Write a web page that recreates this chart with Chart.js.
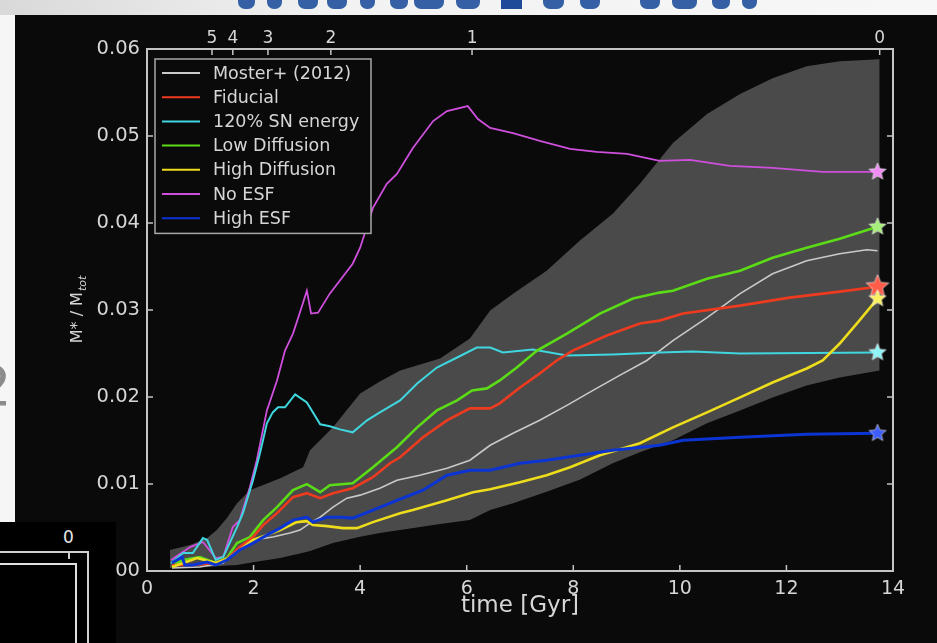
<!DOCTYPE html>
<html>
<head>
<meta charset="utf-8">
<script src="https://cdn.jsdelivr.net/npm/chart.js@4.4.1/dist/chart.umd.min.js"></script>
<style>
    html, body { margin: 0; padding: 0; background: #0a0a0a; overflow: hidden; }
    #wrap { position: relative; width: 937px; height: 643px; background: #0a0a0a; }
    #chart { position: absolute; left: 0; top: 0; }
    /* bits of the slide around the figure */
    .slide-top { position: absolute; left: 0; top: 0; width: 937px; height: 15px; overflow: hidden;
        background: linear-gradient(90deg, #d9d9d9 0%, #f2f2f2 35%, #f7f7f7 100%); }
    .slide-top span { position: absolute; top: -10px; height: 19px; background: #3560a6; border-radius: 0 0 7px 7px; }
    .slide-left { position: absolute; left: 0; top: 15px; width: 15px; height: 507px; overflow: hidden; background: #f6f6f6; }
    .slide-left div { position: absolute; left: -24px; top: 338px; font: 56px 'DejaVu Sans', sans-serif; color: #8c8c8c; }
    .slide-box { position: absolute; left: 0; top: 522px; width: 116px; height: 121px; background: #000; overflow: hidden; }
    .slide-box .lbl { position: absolute; left: 63px; top: 5px; font: 17px 'DejaVu Sans', sans-serif; color: #e6e6e6; }
    .slide-box .h1 { position: absolute; left: 0; top: 29px; width: 88px; height: 2px; background: #d0d0d0; }
    .slide-box .v1 { position: absolute; left: 87px; top: 29px; width: 2px; height: 100px; background: #d0d0d0; }
    .slide-box .t1 { position: absolute; left: 68px; top: 31px; width: 2px; height: 6px; background: #d0d0d0; }
    .slide-box .h2 { position: absolute; left: 0; top: 41px; width: 77px; height: 2px; background: #e0e0e0; }
    .slide-box .v2 { position: absolute; left: 75px; top: 41px; width: 2px; height: 90px; background: #e0e0e0; }
</style>
</head>
<body>
<div id="wrap">
    <canvas id="chart" width="937" height="643"></canvas>
    <div class="slide-top">
        <span style="left:238px;width:17px"></span><span style="left:267px;width:15px"></span>
        <span style="left:298px;width:20px"></span><span style="left:327px;width:20px"></span>
        <span style="left:360px;width:15px"></span><span style="left:390px;width:18px"></span>
        <span style="left:414px;width:30px"></span><span style="left:456px;width:24px"></span>
        <span style="left:501px;width:21px;border-radius:0;background:#1f4a9a"></span>
        <span style="left:543px;width:21px"></span><span style="left:580px;width:20px"></span>
        <span style="left:640px;width:20px"></span><span style="left:672px;width:25px"></span>
        <span style="left:712px;width:18px"></span><span style="left:742px;width:15px"></span>
    </div>
    <div class="slide-left"><div>2</div></div>
    <div class="slide-box">
        <div class="lbl">0</div>
        <div class="h1"></div><div class="v1"></div><div class="t1"></div>
        <div class="h2"></div><div class="v2"></div>
    </div>
</div>
<script>
// Redshift labels on the top axis and the cosmic time (Gyr) where they sit
const zLabels = ['5', '4', '3', '2', '1', '0'];
const zTimes = [1.22, 1.61, 2.27, 3.45, 6.1, 13.75];

// Moster+ (2012) range (grey band)
const bandT = [0.43, 0.81, 1.13, 1.31, 1.5, 1.69, 1.93, 2.5, 2.93, 3.06, 3.49, 4.0, 4.37, 4.75, 5.5, 6.06, 6.44, 6.87, 7.5, 8.12, 8.74, 9.25, 9.87, 10.51, 11.13, 11.74, 12.38, 13.0, 13.75];
const bandLow = [0.00034, 0.0004, 0.00046, 0.00055, 0.00063, 0.0007, 0.00095, 0.00149, 0.0021, 0.0023, 0.00321, 0.00395, 0.00436, 0.0047, 0.0054, 0.00585, 0.007, 0.0078, 0.0091, 0.0105, 0.01239, 0.01365, 0.01502, 0.01697, 0.01846, 0.01995, 0.02133, 0.02225, 0.02305];
const bandHigh = [0.00241, 0.00298, 0.00378, 0.0047, 0.00608, 0.0078, 0.00929, 0.01067, 0.01193, 0.01388, 0.01651, 0.02041, 0.02179, 0.02305, 0.02443, 0.02672, 0.02993, 0.03188, 0.03452, 0.03796, 0.04106, 0.0445, 0.0492, 0.05252, 0.05482, 0.05665, 0.05803, 0.0586, 0.05883];

// Moster+ (2012) median
const mosterT = [0.47, 0.99, 1.43, 1.74, 1.99, 2.36, 2.68, 2.87, 3.06, 3.25, 3.49, 3.75, 4.0, 4.37, 4.69, 5.12, 5.63, 6.06, 6.44, 6.87, 7.37, 7.88, 8.37, 8.87, 9.38, 9.87, 10.51, 11.13, 11.74, 12.38, 13.0, 13.51, 13.71];
const mosterV = [0.00034, 0.00046, 0.00092, 0.00275, 0.00356, 0.0039, 0.00436, 0.0047, 0.0055, 0.00619, 0.00734, 0.00837, 0.00872, 0.00952, 0.01044, 0.01101, 0.01181, 0.01273, 0.01445, 0.01583, 0.01732, 0.01904, 0.02076, 0.02248, 0.0242, 0.02649, 0.02913, 0.03188, 0.03417, 0.03567, 0.03647, 0.03693, 0.03681];

// Fiducial
const fidT = [0.47, 0.86, 1.29, 1.5, 1.74, 1.99, 2.18, 2.44, 2.74, 3.0, 3.25, 3.49, 3.86, 4.24, 4.56, 4.75, 5.18, 5.63, 6.06, 6.44, 6.62, 7.0, 7.32, 7.69, 7.99, 8.63, 9.25, 9.62, 10.06, 11.13, 12.06, 13.0, 13.71];
const fidV = [0.00069, 0.00069, 0.00092, 0.00138, 0.00275, 0.0039, 0.00528, 0.00665, 0.00849, 0.00894, 0.00837, 0.00894, 0.00952, 0.01078, 0.01239, 0.01307, 0.01537, 0.01732, 0.01869, 0.01869, 0.01927, 0.0211, 0.02248, 0.0242, 0.02534, 0.02706, 0.02844, 0.02878, 0.02959, 0.0305, 0.03142, 0.03211, 0.03268];

// 120% SN energy
const snT = [0.45, 0.68, 0.86, 1.05, 1.13, 1.29, 1.43, 1.69, 1.8, 1.99, 2.12, 2.25, 2.36, 2.46, 2.59, 2.78, 3.0, 3.25, 3.43, 3.62, 3.86, 4.13, 4.37, 4.75, 5.07, 5.44, 5.82, 6.19, 6.44, 6.68, 7.24, 7.88, 8.74, 9.62, 10.24, 11.13, 13.71];
const snV = [0.00092, 0.00206, 0.00206, 0.00378, 0.00356, 0.00126, 0.00161, 0.00505, 0.00665, 0.01044, 0.01353, 0.01697, 0.01823, 0.01881, 0.01881, 0.0203, 0.01938, 0.01686, 0.01663, 0.01628, 0.01594, 0.01732, 0.01823, 0.01961, 0.02156, 0.02339, 0.02454, 0.02569, 0.02569, 0.02511, 0.02546, 0.02477, 0.02489, 0.02511, 0.02523, 0.025, 0.02511];

// Low Diffusion
const lowT = [0.47, 0.68, 0.99, 1.29, 1.5, 1.69, 1.93, 2.18, 2.44, 2.74, 3.0, 3.25, 3.43, 3.86, 4.24, 4.69, 5.07, 5.44, 5.82, 6.1, 6.38, 6.62, 6.94, 7.32, 7.88, 8.5, 9.12, 9.62, 9.87, 10.51, 11.13, 11.74, 12.38, 13.0, 13.71];
const lowV = [0.00069, 0.00126, 0.00161, 0.00092, 0.00149, 0.00321, 0.0039, 0.00585, 0.00734, 0.00929, 0.00998, 0.00906, 0.00986, 0.01009, 0.01193, 0.01422, 0.01651, 0.01846, 0.01961, 0.02076, 0.02099, 0.0219, 0.02339, 0.02534, 0.02729, 0.02959, 0.03131, 0.032, 0.03222, 0.0336, 0.03452, 0.03601, 0.03716, 0.03819, 0.03956];

// High Diffusion
const highT = [0.47, 0.68, 0.94, 1.29, 1.5, 1.74, 1.99, 2.25, 2.5, 2.81, 3.0, 3.11, 3.38, 3.68, 3.94, 4.24, 4.75, 4.99, 5.63, 6.12, 6.44, 7.0, 7.5, 7.94, 8.5, 9.25, 9.87, 10.51, 11.13, 11.74, 12.38, 12.68, 13.0, 13.32, 13.71];
const highV = [0.00046, 0.00092, 0.00149, 0.00092, 0.00138, 0.00241, 0.00356, 0.00413, 0.0047, 0.00562, 0.00573, 0.00528, 0.00516, 0.00493, 0.00493, 0.00562, 0.00665, 0.007, 0.00814, 0.00906, 0.0094, 0.01021, 0.01101, 0.01193, 0.0133, 0.01468, 0.01651, 0.01823, 0.01995, 0.02167, 0.02328, 0.0242, 0.02615, 0.02844, 0.03131];

// No ESF
const noEsfT = [0.45, 0.81, 1.05, 1.29, 1.43, 1.61, 1.74, 1.93, 2.06, 2.25, 2.44, 2.59, 2.74, 2.9, 3.0, 3.08, 3.21, 3.43, 3.86, 4.0, 4.24, 4.5, 4.69, 4.99, 5.37, 5.63, 6.02, 6.21, 6.44, 6.87, 7.37, 7.94, 8.44, 9.01, 9.62, 10.19, 10.94, 11.74, 12.68, 13.71];
const noEsfV = [0.00126, 0.00275, 0.00333, 0.00149, 0.00161, 0.00505, 0.00585, 0.00963, 0.01273, 0.01846, 0.0219, 0.02534, 0.02729, 0.03028, 0.03222, 0.02959, 0.0297, 0.03188, 0.03532, 0.03716, 0.04174, 0.0445, 0.04564, 0.04862, 0.05172, 0.05287, 0.05344, 0.05195, 0.05092, 0.05034, 0.04943, 0.04851, 0.04817, 0.04794, 0.04713, 0.04725, 0.04656, 0.04633, 0.04587, 0.04587];

// High ESF
const hiEsfT = [0.47, 0.66, 0.71, 0.86, 1.13, 1.29, 1.5, 1.74, 1.99, 2.25, 2.5, 2.74, 3.0, 3.11, 3.38, 3.62, 3.86, 4.24, 4.75, 5.18, 5.63, 6.06, 6.44, 7.0, 7.5, 8.12, 8.74, 9.62, 10.06, 11.13, 12.38, 13.71];
const hiEsfV = [0.00092, 0.00161, 0.00069, 0.00069, 0.00103, 0.00069, 0.00126, 0.00241, 0.00321, 0.00413, 0.00493, 0.00585, 0.00619, 0.00562, 0.00619, 0.00619, 0.00608, 0.007, 0.00826, 0.00929, 0.01101, 0.01158, 0.01158, 0.01239, 0.01273, 0.0133, 0.01388, 0.01445, 0.01502, 0.01537, 0.01571, 0.01583];

const FONT = "'DejaVu Sans', sans-serif";
const textColor = '#d6d6d6';
const axisColor = '#c4c4c4';

// Pair up time and value arrays
function toPoints(ts, vs) {
    return ts.map((t, i) => ({ x: t, y: vs[i] }));
}

// Five pointed star used as the z=0 marker
function makeStar(color, r) {
    const c = document.createElement('canvas');
    const s = Math.ceil(r * 2 + 4);
    c.width = s;
    c.height = s;
    const g = c.getContext('2d');
    g.beginPath();
    for (let i = 0; i < 10; i++) {
        const rad = i % 2 ? r * 0.45 : r;
        const a = -Math.PI / 2 + i * Math.PI / 5;
        g.lineTo(s / 2 + rad * Math.cos(a), s / 2 + rad * Math.sin(a));
    }
    g.closePath();
    g.fillStyle = color;
    g.fill();
    g.strokeStyle = 'rgba(255,255,255,0.55)';
    g.lineWidth = 1;
    g.stroke();
    return c;
}

// One simulation line, with a star on its last point
function simLine(label, ts, vs, color, width, star, order) {
    const last = ts.length - 1;
    return {
        label: label,
        data: toPoints(ts, vs),
        borderColor: color,
        backgroundColor: color,
        borderWidth: width,
        tension: 0,
        fill: false,
        order: order,
        pointStyle: ctx => (star && ctx.dataIndex === last ? star : false),
        pointRadius: ctx => (star && ctx.dataIndex === last ? 8 : 0),
        pointHoverRadius: 0
    };
}

// Frame and inward ticks, matplotlib style
const frameTicks = {
    id: 'frameTicks',
    afterDatasetsDraw(chart) {
        const { ctx, chartArea: a, scales } = chart;
        ctx.save();
        ctx.strokeStyle = axisColor;
        ctx.lineWidth = 2;
        ctx.strokeRect(a.left, a.top, a.right - a.left, a.bottom - a.top);
        ctx.lineWidth = 1.5;
        ctx.beginPath();
        scales.x.ticks.forEach(t => {
            const px = scales.x.getPixelForValue(t.value);
            ctx.moveTo(px, a.bottom);
            ctx.lineTo(px, a.bottom - 6);
        });
        scales.xTop.ticks.forEach(t => {
            const px = scales.xTop.getPixelForValue(t.value);
            ctx.moveTo(px, a.top);
            ctx.lineTo(px, a.top + 6);
        });
        scales.y.ticks.forEach(t => {
            const py = scales.y.getPixelForValue(t.value);
            ctx.moveTo(a.left, py);
            ctx.lineTo(a.left + 6, py);
            ctx.moveTo(a.right, py);
            ctx.lineTo(a.right - 6, py);
        });
        ctx.stroke();
        ctx.restore();
    }
};

// Legend box in the upper left of the plot
const boxLegend = {
    id: 'boxLegend',
    afterDatasetsDraw(chart) {
        const { ctx, chartArea: a } = chart;
        const items = chart.data.datasets.filter(d => d.label);
        const x0 = a.left + 8;
        const y0 = a.top + 10;
        const w = 216;
        const rowH = 24.2;
        const h = items.length * rowH + 5;
        ctx.save();
        ctx.fillStyle = '#0a0a0a';
        ctx.fillRect(x0, y0, w, h);
        ctx.strokeStyle = '#a8a8a8';
        ctx.lineWidth = 1.5;
        ctx.strokeRect(x0, y0, w, h);
        ctx.font = '17.5px ' + FONT;
        ctx.textBaseline = 'middle';
        items.forEach((d, i) => {
            const yy = y0 + 14 + i * rowH;
            ctx.strokeStyle = d.borderColor;
            ctx.lineWidth = 2;
            ctx.beginPath();
            ctx.moveTo(x0 + 7, yy);
            ctx.lineTo(x0 + 45, yy);
            ctx.stroke();
            ctx.fillStyle = textColor;
            ctx.fillText(d.label, x0 + 58, yy + 1);
        });
        ctx.restore();
    }
};

// Axis titles
const axisTitles = {
    id: 'axisTitles',
    afterDraw(chart) {
        const { ctx, chartArea: a } = chart;
        ctx.save();
        ctx.fillStyle = textColor;
        ctx.font = '23px ' + FONT;
        ctx.textAlign = 'center';
        ctx.textBaseline = 'alphabetic';
        ctx.fillText('time [Gyr]', (a.left + a.right) / 2, 612);

        ctx.translate(76, (a.top + a.bottom) / 2);
        ctx.rotate(-Math.PI / 2);
        ctx.textAlign = 'left';
        ctx.font = '16px ' + FONT;
        const main = 'M* / M';
        const w1 = ctx.measureText(main).width;
        ctx.font = 'italic 11px ' + FONT;
        const w2 = ctx.measureText('tot').width;
        const x = -(w1 + w2) / 2;
        ctx.font = '16px ' + FONT;
        ctx.fillText(main, x, 6);
        ctx.font = 'italic 11px ' + FONT;
        ctx.fillText('tot', x + w1 + 1, 10);
        ctx.restore();
    }
};

const datasets = [
    {
        data: toPoints(bandT, bandLow),
        borderWidth: 0,
        pointRadius: 0,
        fill: false,
        order: 10
    },
    {
        data: toPoints(bandT, bandHigh),
        borderWidth: 0,
        pointRadius: 0,
        backgroundColor: '#4a4a4a',
        fill: '-1',
        order: 10
    },
    simLine('Moster+ (2012)', mosterT, mosterV, '#c9c9c9', 1.6, null, 7),
    simLine('Fiducial', fidT, fidV, '#ee3b1f', 2.6, makeStar('#ff5d4a', 12), 3),
    simLine('120% SN energy', snT, snV, '#3fd6df', 2, makeStar('#8ff4f6', 9), 5),
    simLine('Low Diffusion', lowT, lowV, '#5bdc16', 2.6, makeStar('#a6ef7a', 9), 4),
    simLine('High Diffusion', highT, highV, '#eedd1c', 2.6, makeStar('#fbef62', 9), 2),
    simLine('No ESF', noEsfT, noEsfV, '#cf4fdd', 1.8, makeStar('#ee8ef2', 9), 6),
    simLine('High ESF', hiEsfT, hiEsfV, '#0b34d2', 3, makeStar('#3d5cff', 9), 1)
];

new Chart(document.getElementById('chart'), {
    type: 'line',
    data: { datasets: datasets },
    plugins: [frameTicks, boxLegend, axisTitles],
    options: {
        responsive: false,
        animation: false,
        layout: { padding: { left: 0, top: 0, right: 44, bottom: 0 } },
        plugins: {
            legend: { display: false },
            tooltip: { enabled: false }
        },
        scales: {
            x: {
                type: 'linear',
                position: 'bottom',
                min: 0,
                max: 14,
                grid: { display: false, drawTicks: false },
                border: { display: false },
                ticks: { stepSize: 2, color: textColor, font: { family: FONT, size: 19 }, padding: 7, maxRotation: 0 },
                afterFit: s => { s.height = 72; }
            },
            xTop: {
                type: 'linear',
                position: 'top',
                min: 0,
                max: 14,
                grid: { display: false, drawTicks: false },
                border: { display: false },
                afterBuildTicks: s => { s.ticks = zTimes.map(v => ({ value: v })); },
                ticks: {
                    autoSkip: false,
                    color: textColor,
                    font: { family: FONT, size: 17 },
                    padding: 0,
                    maxRotation: 0,
                    callback: (v, i) => zLabels[i]
                },
                afterFit: s => { s.height = 49; }
            },
            y: {
                type: 'linear',
                min: 0,
                max: 0.06,
                grid: { display: false, drawTicks: false },
                border: { display: false },
                ticks: { stepSize: 0.01, color: textColor, font: { family: FONT, size: 19.5 }, padding: 7, callback: v => v.toFixed(2) },
                afterFit: s => { s.width = 147; }
            }
        }
    }
});
</script>
</body>
</html>
